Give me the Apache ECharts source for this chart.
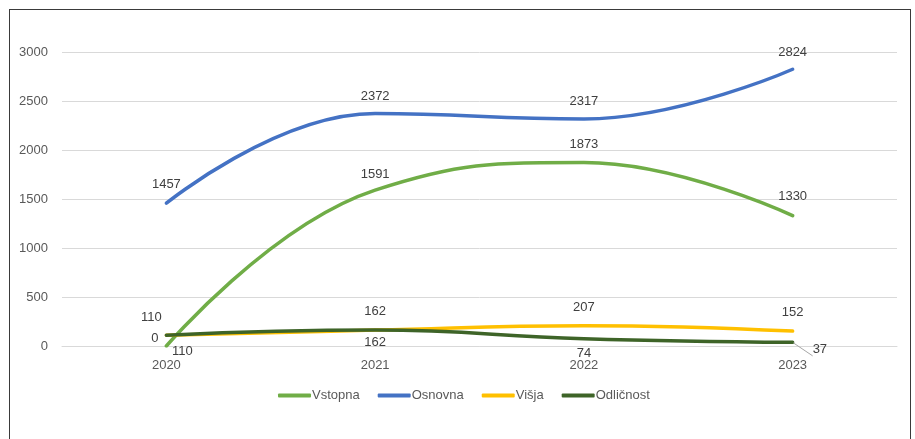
<!DOCTYPE html>
<html>
<head>
<meta charset="utf-8">
<script src="https://cdn.jsdelivr.net/npm/echarts@6/dist/echarts.min.js"></script>
<style>
  html, body { margin: 0; padding: 0; background: #fff; }
  #frame {
    position: absolute; left: 9px; top: 9px; width: 902px; height: 460px;
    border: 1px solid #3a3a3a; box-sizing: border-box;
  }
  #chart { position: absolute; left: 0; top: 0; width: 915px; height: 439px; }
</style>
</head>
<body>
<div id="frame"></div>
<div id="chart"></div>
<script>
const years = ['2020', '2021', '2022', '2023']
const vstopna = [0, 1591, 1873, 1330]
const osnovna = [1457, 2372, 2317, 2824]
const visja = [110, 162, 207, 152]
const odlicnost = [110, 162, 74, 37]
const yTicks = [0, 500, 1000, 1500, 2000, 2500, 3000]

const font = 'Liberation Sans, Arial, sans-serif'
const labelColor = '#404040'
const colors = { Vstopna: '#70ad47', Osnovna: '#4472c4', 'Višja': '#ffc000', 'Odličnost': '#3e6428' }

function lineSeries(name, data, labelPos) {
  const color = colors[name]
  return {
    name,
    type: 'line',
    smooth: 0.45,
    symbol: 'circle',
    symbolSize: 2,
    showSymbol: true,
    data: data.map((v, i) => ({
      value: v,
      label: {
        show: true,
        color: labelColor,
        fontFamily: font,
        fontSize: 13,
        ...labelPos[i].label
      },
      labelLine: labelPos[i].line
        ? { show: true, lineStyle: { color: '#a6a6a6', width: 1 } }
        : { show: false }
    })),
    lineStyle: { color, width: 3.5, cap: 'round' },
    itemStyle: { color: 'rgba(0,0,0,0)', borderWidth: 0 },
    z: name === 'Odličnost' ? 4 : 3
  }
}

const chart = echarts.init(document.getElementById('chart'))
chart.setOption({
  animation: false,
  textStyle: { fontFamily: font },
  legend: {
    bottom: 32,
    left: 273,
    itemWidth: 33,
    itemHeight: 4,
    itemGap: 18,
    icon: 'roundRect',
    textStyle: { color: '#595959', fontSize: 13, fontFamily: font, padding: [0, 0, 0, -4] },
    data: Object.keys(colors).map(n => ({ name: n, itemStyle: { color: colors[n] } }))
  },
  grid: { left: 62, right: 18, top: 52, bottom: 93 },
  xAxis: {
    type: 'category',
    data: years,
    boundaryGap: true,
    axisLine: { lineStyle: { color: '#d9d9d9' } },
    axisTick: { show: false },
    axisLabel: { color: '#595959', fontSize: 13, fontFamily: font, margin: 13 }
  },
  yAxis: {
    type: 'value',
    min: yTicks[0],
    max: yTicks[yTicks.length - 1],
    interval: 500,
    axisLine: { show: false },
    axisTick: { show: false },
    axisLabel: { color: '#595959', fontSize: 13, fontFamily: font, margin: 14, formatter: v => String(v) },
    splitLine: { lineStyle: { color: '#d9d9d9', width: 1 } }
  },
  series: [
    lineSeries('Vstopna', vstopna, [
      { label: { position: 'left', offset: [-2, -8] } },
      { label: { position: 'top', offset: [0, -3] } },
      { label: { position: 'top', offset: [0, -6] } },
      { label: { position: 'top', offset: [0, -7] } }
    ]),
    lineSeries('Osnovna', osnovna, [
      { label: { position: 'top', offset: [0, -6] } },
      { label: { position: 'top', offset: [0, -5] } },
      { label: { position: 'top', offset: [0, -5] } },
      { label: { position: 'top', offset: [0, -4] } }
    ]),
    lineSeries('Višja', visja, [
      { label: { position: 'top', offset: [-15, -5] } },
      { label: { position: 'top', offset: [0, -6] } },
      { label: { position: 'top', offset: [0, -6] } },
      { label: { position: 'top', offset: [0, -6] } }
    ]),
    lineSeries('Odličnost', odlicnost, [
      { label: { position: 'bottom', offset: [16, 4] } },
      { label: { position: 'bottom', offset: [0, 0] } },
      { label: { position: 'bottom', offset: [0, 2] } },
      { label: { position: 'right', offset: [14, 7] }, line: true }
    ])
  ]
})
</script>
</body>
</html>
